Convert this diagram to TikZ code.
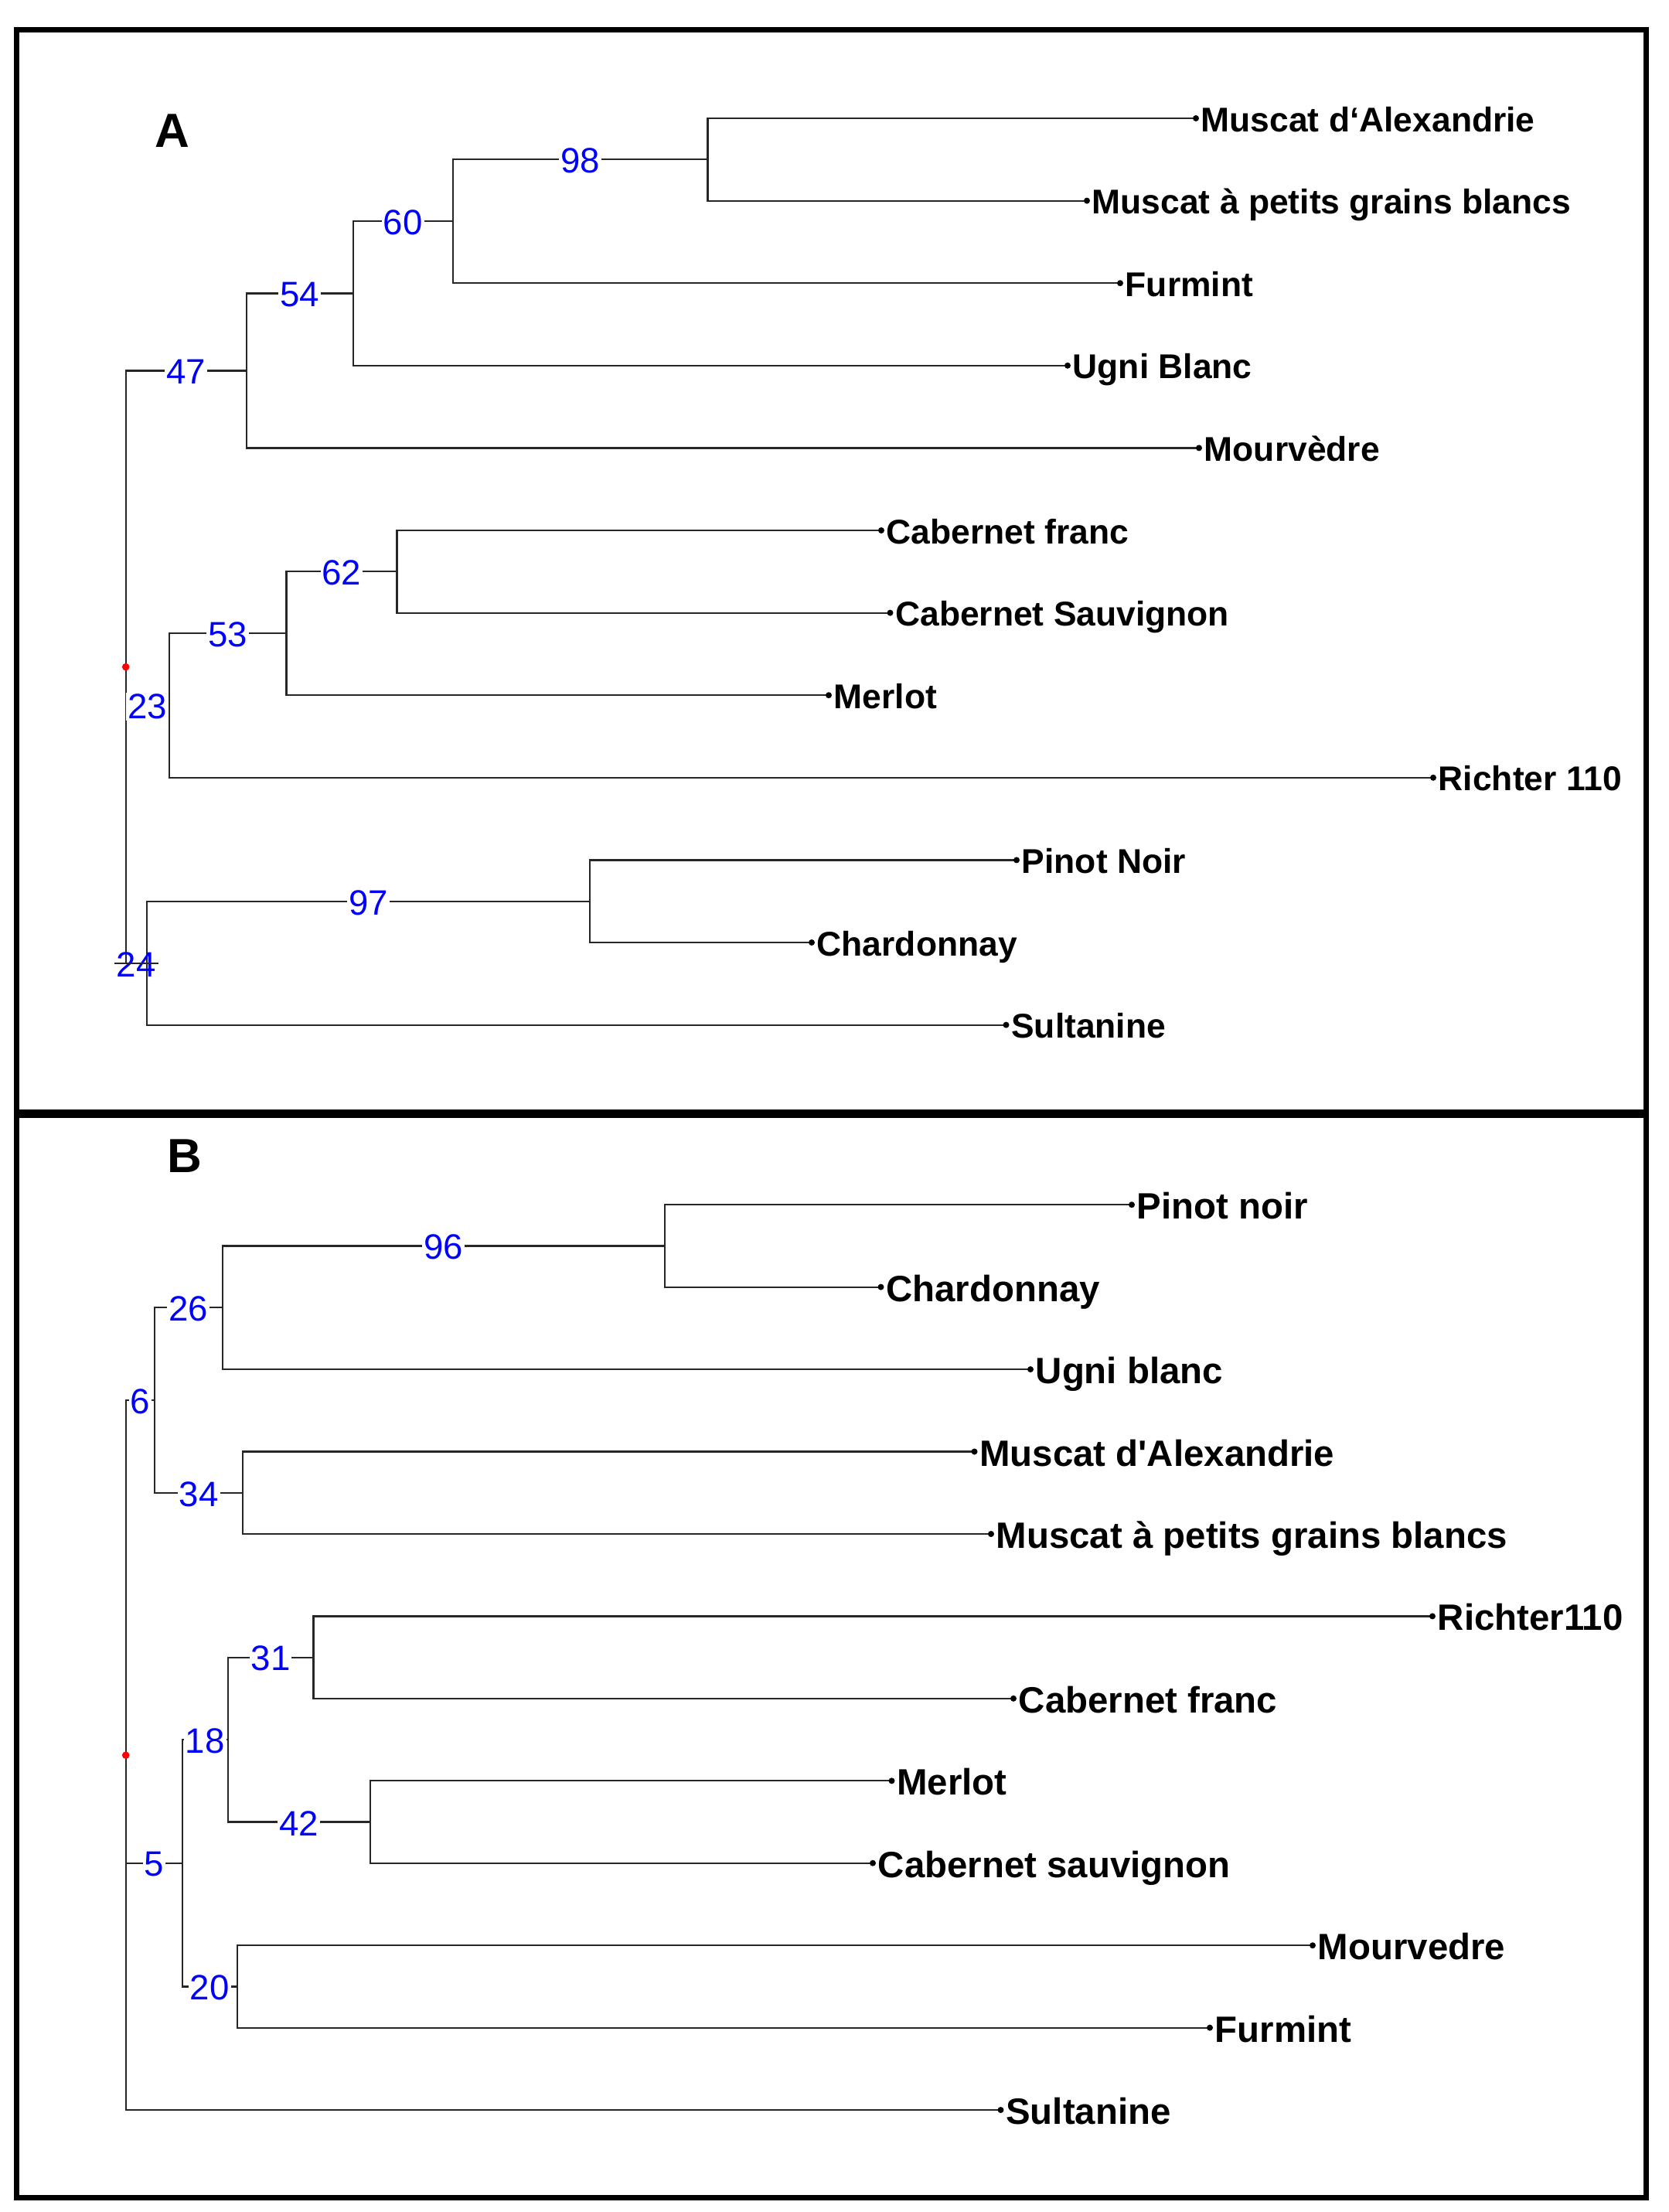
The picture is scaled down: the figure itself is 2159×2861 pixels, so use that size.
\documentclass[tikz,border=0pt]{standalone}
\usepackage{fontspec}
\setmainfont{Liberation Sans}
\usetikzlibrary{calc}
\newcommand{\straightquote}{\XeTeXglyph\the\XeTeXcharglyph"27\relax}
\begin{document}
\begin{tikzpicture}[x=0.25pt,y=-0.25pt,
  branch/.style={draw=black!85, line width=0.55pt},
  panelframe/.style={draw=black, line width=1.75pt},
  leafA/.style={anchor=base west, inner sep=0pt, font=\fontsize{11.1pt}{13pt}\selectfont\bfseries},
  leafB/.style={anchor=base west, inner sep=0pt, font=\fontsize{11.85pt}{14pt}\selectfont\bfseries},
  numlab/.style={text=blue, fill=white, inner sep=0.5pt, yshift=-0.4pt, font=\fontsize{11.4pt}{13pt}\selectfont},
  numlabclear/.style={text=blue, inner sep=0.5pt, yshift=-0.4pt, font=\fontsize{11.4pt}{13pt}\selectfont},
  panellab/.style={anchor=base west, inner sep=0pt, font=\fontsize{15.5pt}{18pt}\selectfont\bfseries},
  tipdot/.style={fill=black},
  rootdot/.style={fill=red}
]
\useasboundingbox (0,0) rectangle (2159,2861);

% frames
\draw[panelframe] (21.5,38) rectangle (2129,1438);
\draw[panelframe] (21.5,1442) rectangle (2129,2842);

\node[panellab] (labA) at (200,190) {A};
\node[panellab] (labB) at (216,1516) {B};

% ---------------- Tree A ----------------
\coordinate (rA) at (162.7,862.6);
\coordinate (n47) at (319,479.5);
\coordinate (n54) at (456.7,379.5);
\coordinate (n60) at (586,286.3);
\coordinate (n98) at (915.5,206.3);
\coordinate (n23) at (218.9,912.5);
\coordinate (n53) at (370.4,819.3);
\coordinate (n62) at (513.5,739.3);
\coordinate (n24) at (190,1245.7);
\coordinate (n97) at (763,1165.7);

\coordinate (a0) at (1547,153);
\coordinate (a1) at (1406,259.6);
\coordinate (a2) at (1449,366.2);
\coordinate (a3) at (1381,472.8);
\coordinate (a4) at (1551,579.4);
\coordinate (a5) at (1140,686);
\coordinate (a6) at (1151.5,792.6);
\coordinate (a7) at (1072,899.2);
\coordinate (a8) at (1854,1005.8);
\coordinate (a9) at (1315,1112.4);
\coordinate (a10) at (1050,1219);
\coordinate (a11) at (1301.5,1325.6);

\draw[branch] (rA) |- (n47);
\draw[branch] (rA) |- (n23);
\draw[branch] (rA) |- (n24);
\draw[branch] (n47) |- (n54);
\draw[branch] (n47) |- (a4);
\draw[branch] (n54) |- (n60);
\draw[branch] (n54) |- (a3);
\draw[branch] (n60) |- (n98);
\draw[branch] (n60) |- (a2);
\draw[branch] (n98) |- (a0);
\draw[branch] (n98) |- (a1);
\draw[branch] (n23) |- (n53);
\draw[branch] (n23) |- (a8);
\draw[branch] (n53) |- (n62);
\draw[branch] (n53) |- (a7);
\draw[branch] (n62) |- (a5);
\draw[branch] (n62) |- (a6);
\draw[branch] (n24) |- (n97);
\draw[branch] (n24) |- (a11);
\draw[branch] (n97) |- (a9);
\draw[branch] (n97) |- (a10);

\foreach \t in {a0,a1,a2,a3,a4,a5,a6,a7,a8,a9,a10,a11}
  \fill[tipdot] (\t) circle[radius=1pt];
\fill[rootdot] (rA) circle[radius=1.2pt];

\node[leafA] (ta0) at ([shift={(6,17)}]a0) {Muscat d‘Alexandrie};
\node[leafA] (ta1) at ([shift={(6,17)}]a1) {Muscat à petits grains blancs};
\node[leafA] (ta2) at ([shift={(6,17)}]a2) {Furmint};
\node[leafA] (ta3) at ([shift={(6,17)}]a3) {Ugni Blanc};
\node[leafA] (ta4) at ([shift={(6,17)}]a4) {Mourvèdre};
\node[leafA] (ta5) at ([shift={(6,17)}]a5) {Cabernet franc};
\node[leafA] (ta6) at ([shift={(6,17)}]a6) {Cabernet Sauvignon};
\node[leafA] (ta7) at ([shift={(6,17)}]a7) {Merlot};
\node[leafA] (ta8) at ([shift={(6,17)}]a8) {Richter 110};
\node[leafA] (ta9) at ([shift={(6,17)}]a9) {Pinot Noir};
\node[leafA] (ta10) at ([shift={(6,17)}]a10) {Chardonnay};
\node[leafA] (ta11) at ([shift={(6,17)}]a11) {Sultanine};

\node[numlab] (l47) at ($(rA |- n47)!0.5!(n47)$) {47};
\node[numlab] (l54) at ($(n47 |- n54)!0.5!(n54)$) {54};
\node[numlab] (l60) at ($(n54 |- n60)!0.5!(n60)$) {60};
\node[numlab] (l98) at ($(n60 |- n98)!0.5!(n98)$) {98};
\node[numlab] (l23) at ($(rA |- n23)!0.5!(n23)$) {23};
\node[numlab] (l53) at ($(n23 |- n53)!0.5!(n53)$) {53};
\node[numlab] (l62) at ($(n53 |- n62)!0.5!(n62)$) {62};
\node[numlab] (l97) at ($(n24 |- n97)!0.5!(n97)$) {97};
\node[numlabclear] (l24) at ($(rA |- n24)!0.5!(n24)$) {24};
\draw[branch] (l24.west |- n24) -- (l24.east |- n24);

% ---------------- Tree B ----------------
\coordinate (rB) at (162.7,2270.2);
\coordinate (n6) at (200,1811);
\coordinate (n26) at (287.6,1691.3);
\coordinate (n96) at (860,1611.4);
\coordinate (n34) at (314.3,1930.7);
\coordinate (n5) at (235.7,2409.8);
\coordinate (n18) at (294.6,2250);
\coordinate (n31) at (405.5,2143.6);
\coordinate (n42) at (479.1,2356.5);
\coordinate (n20) at (306.6,2569.4);

\coordinate (b0) at (1464,1558.2);
\coordinate (b1) at (1139.5,1664.6);
\coordinate (b2) at (1333,1771.1);
\coordinate (b3) at (1260.5,1877.5);
\coordinate (b4) at (1282,1984.0);
\coordinate (b5) at (1853,2090.4);
\coordinate (b6) at (1311,2196.8);
\coordinate (b7) at (1153.5,2303.3);
\coordinate (b8) at (1129,2409.7);
\coordinate (b9) at (1698,2516.2);
\coordinate (b10) at (1565,2622.6);
\coordinate (b11) at (1294.5,2729.0);

\draw[branch] (rB) |- (n6);
\draw[branch] (rB) |- (n5);
\draw[branch] (rB) |- (b11);
\draw[branch] (n6) |- (n26);
\draw[branch] (n6) |- (n34);
\draw[branch] (n26) |- (n96);
\draw[branch] (n26) |- (b2);
\draw[branch] (n96) |- (b0);
\draw[branch] (n96) |- (b1);
\draw[branch] (n34) |- (b3);
\draw[branch] (n34) |- (b4);
\draw[branch] (n5) |- (n18);
\draw[branch] (n5) |- (n20);
\draw[branch] (n18) |- (n31);
\draw[branch] (n18) |- (n42);
\draw[branch] (n31) |- (b5);
\draw[branch] (n31) |- (b6);
\draw[branch] (n42) |- (b7);
\draw[branch] (n42) |- (b8);
\draw[branch] (n20) |- (b9);
\draw[branch] (n20) |- (b10);

\foreach \t in {b0,b1,b2,b3,b4,b5,b6,b7,b8,b9,b10,b11}
  \fill[tipdot] (\t) circle[radius=1pt];
\fill[rootdot] (rB) circle[radius=1.2pt];

\node[leafB] (tb0) at ([shift={(6,18.5)}]b0) {Pinot noir};
\node[leafB] (tb1) at ([shift={(6,18.5)}]b1) {Chardonnay};
\node[leafB] (tb2) at ([shift={(6,18.5)}]b2) {Ugni blanc};
\node[leafB] (tb3) at ([shift={(6,18.5)}]b3) {Muscat d\straightquote Alexandrie};
\node[leafB] (tb4) at ([shift={(6,18.5)}]b4) {Muscat à petits grains blancs};
\node[leafB] (tb5) at ([shift={(6,18.5)}]b5) {Richter110};
\node[leafB] (tb6) at ([shift={(6,18.5)}]b6) {Cabernet franc};
\node[leafB] (tb7) at ([shift={(6,18.5)}]b7) {Merlot};
\node[leafB] (tb8) at ([shift={(6,18.5)}]b8) {Cabernet sauvignon};
\node[leafB] (tb9) at ([shift={(6,18.5)}]b9) {Mourvedre};
\node[leafB] (tb10) at ([shift={(6,18.5)}]b10) {Furmint};
\node[leafB] (tb11) at ([shift={(6,18.5)}]b11) {Sultanine};

\node[numlab] (l6) at ($(rB |- n6)!0.5!(n6)$) {6};
\node[numlab] (l26) at ($(n6 |- n26)!0.5!(n26)$) {26};
\node[numlab] (l96) at ($(n26 |- n96)!0.5!(n96)$) {96};
\node[numlab] (l34) at ($(n6 |- n34)!0.5!(n34)$) {34};
\node[numlab] (l5) at ($(rB |- n5)!0.5!(n5)$) {5};
\node[numlab] (l18) at ($(n5 |- n18)!0.5!(n18)$) {18};
\node[numlab] (l31) at ($(n18 |- n31)!0.5!(n31)$) {31};
\node[numlab] (l42) at ($(n18 |- n42)!0.5!(n42)$) {42};
\node[numlab] (l20) at ($(n5 |- n20)!0.5!(n20)$) {20};
\end{tikzpicture}
\end{document}
